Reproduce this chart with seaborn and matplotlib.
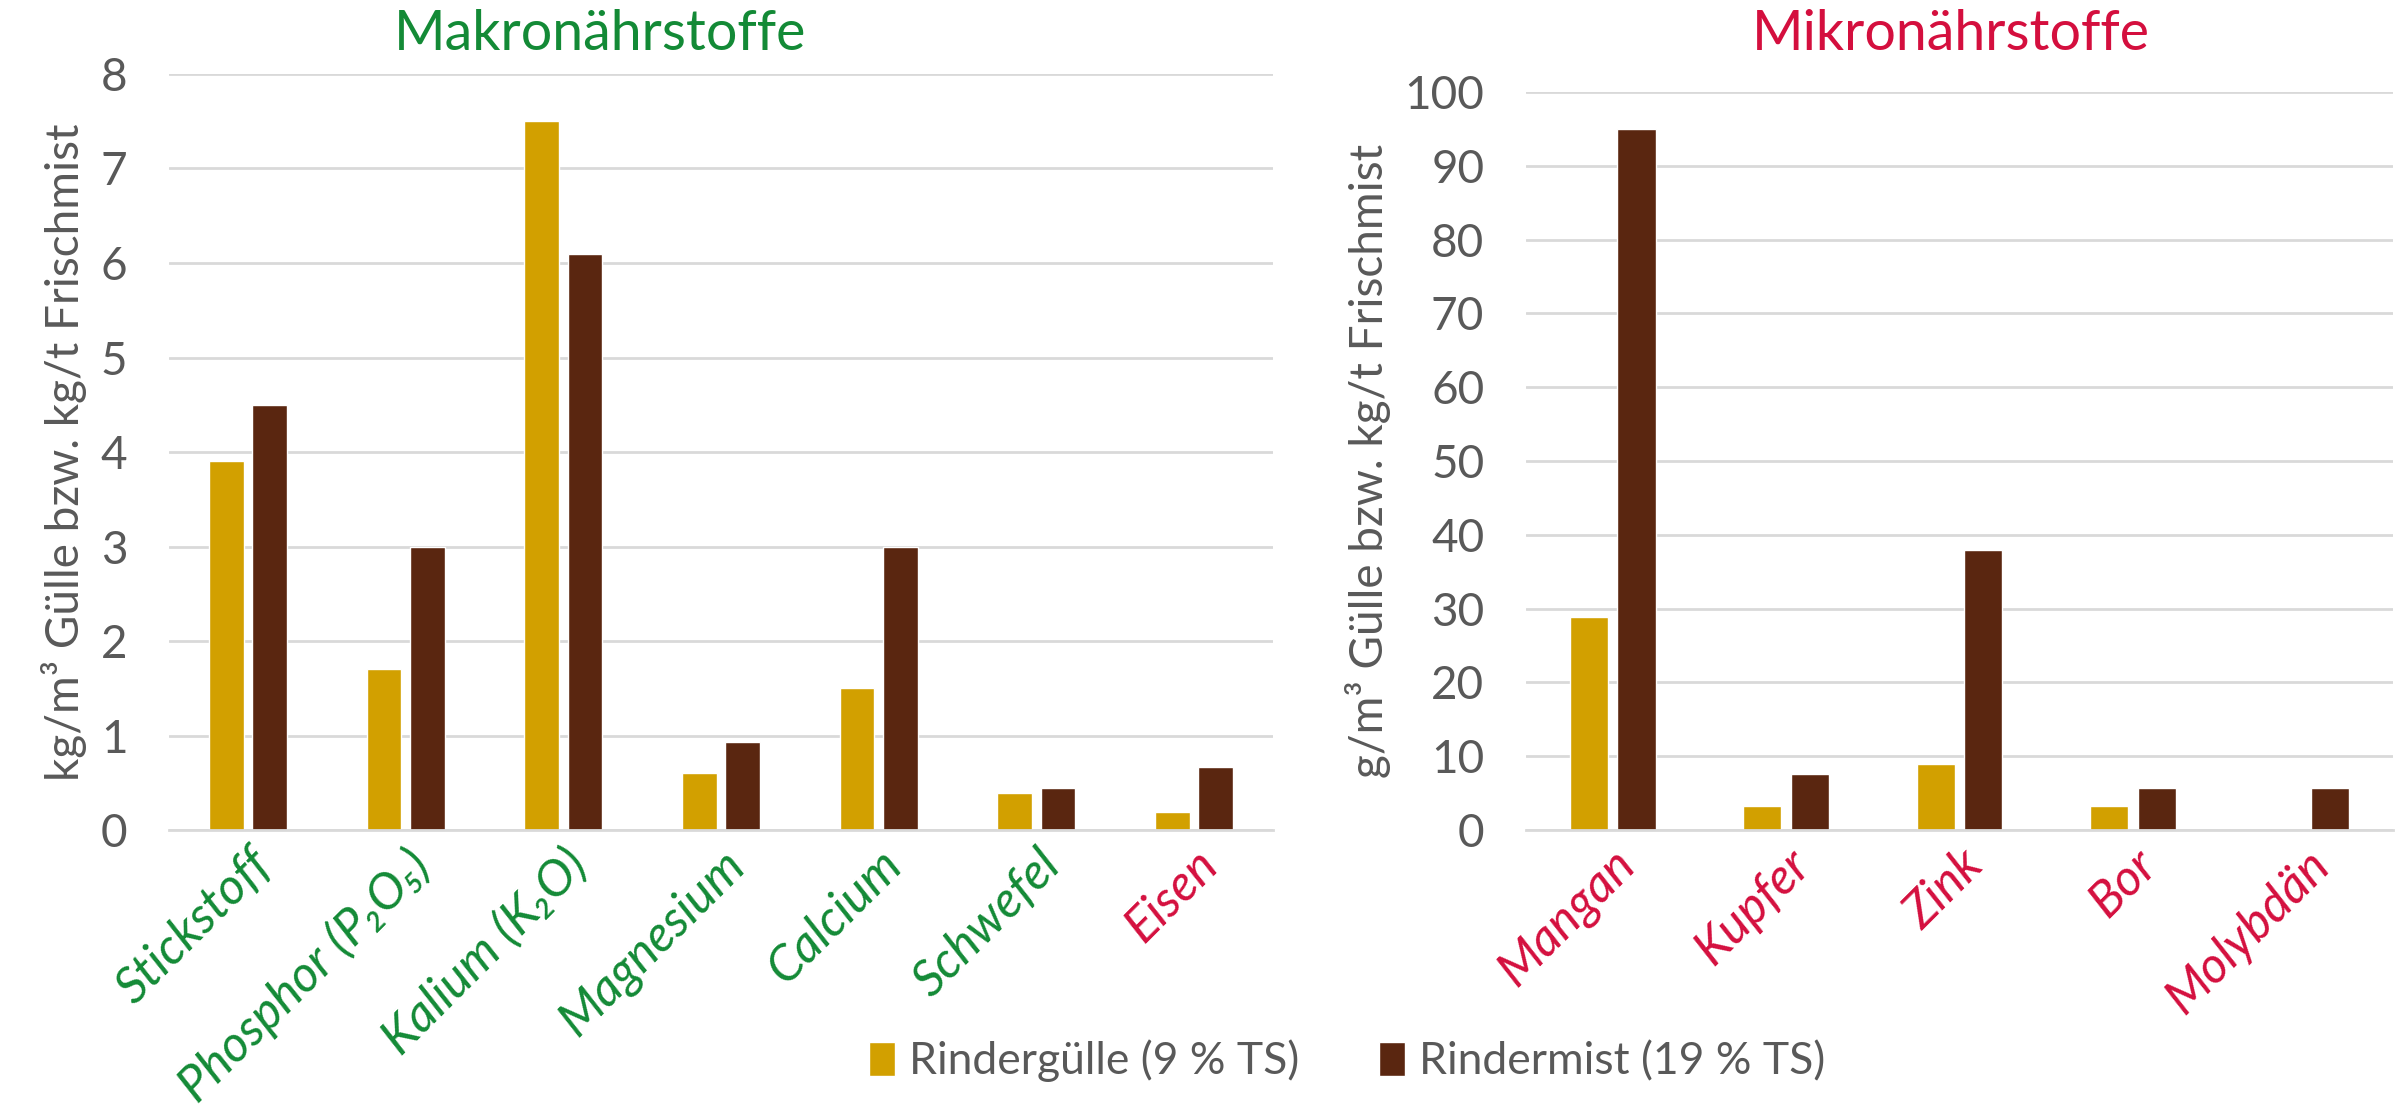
import matplotlib
matplotlib.use("Agg")
import matplotlib.pyplot as plt
from matplotlib.patches import Patch
import numpy as np
import pandas as pd
import seaborn as sns

# data
makro_cats = ["Stickstoff", "Phosphor (P\u2082O\u2085)", "Kalium (K\u2082O)",
              "Magnesium", "Calcium", "Schwefel", "Eisen"]
makro_guelle = [3.9, 1.7, 7.5, 0.6, 1.5, 0.39, 0.19]
makro_mist = [4.5, 3.0, 6.1, 0.93, 3.0, 0.45, 0.67]

mikro_cats = ["Mangan", "Kupfer", "Zink", "Bor", "Molybdän"]
mikro_guelle = [28.9, 3.2, 9.0, 3.2, np.nan]
mikro_mist = [95.0, 7.6, 38.0, 5.7, 5.7]

series = ["Rindergülle (9 % TS)", "Rindermist (19 % TS)"]

GOLD = "#D2A000"
BROWN = "#5A2610"
GREEN = "#138A36"
RED = "#D40F3E"
GREY = "#595959"
GRID = "#D9D9D9"

makro_colors = [GREEN] * 6 + [RED]
mikro_colors = [RED] * 5


def long_df(cats, a, b):
    return pd.DataFrame({
        "cat": cats * 2,
        "val": list(a) + list(b),
        "serie": [series[0]] * len(cats) + [series[1]] * len(cats),
    })


def bar_panel(ax, df, cats, colors, ylim, yticks, ylabel):
    sns.barplot(data=df, x="cat", y="val", hue="serie", order=cats,
                hue_order=series, palette=[GOLD, BROWN], saturation=1,
                errorbar=None, width=0.55, gap=0.2, legend=False, ax=ax)
    ax.set_ylim(*ylim)
    ax.set_xlim(-0.5, len(cats) - 0.5)
    ax.set_yticks(yticks)
    ax.yaxis.grid(True, color=GRID, lw=2)
    ax.set_axisbelow(True)
    for s in ["top", "right", "left"]:
        ax.spines[s].set_visible(False)
    ax.spines["bottom"].set_color(GRID)
    ax.spines["bottom"].set_linewidth(2)
    ax.tick_params(axis="both", length=0)
    ax.tick_params(axis="y", labelsize=33, labelcolor=GREY, pad=30)
    ax.set_xlabel("")
    ax.set_ylabel(ylabel, fontsize=33, color=GREY, labelpad=10)
    ax.set_xticks(range(len(cats)))
    ax.set_xticklabels(cats, rotation=45, ha="right", va="top",
                       rotation_mode="anchor", fontsize=36,
                       fontstyle="italic")
    for lbl, c in zip(ax.get_xticklabels(), colors):
        lbl.set_color(c)
    ax.tick_params(axis="x", pad=8)


sns.set_style("white")
plt.rcParams["font.family"] = ["Lato", "DejaVu Sans"]

fig = plt.figure(figsize=(24.05, 11.11), dpi=100)
ax1 = fig.add_axes([0.0703, 0.2529, 0.459, 0.6805])
ax2 = fig.add_axes([0.6345, 0.2529, 0.3605, 0.6643])

bar_panel(ax1, long_df(makro_cats, makro_guelle, makro_mist), makro_cats,
          makro_colors, (0, 8), range(0, 9),
          "kg/m³ Gülle bzw. kg/t Frischmist")
bar_panel(ax2, long_df(mikro_cats, mikro_guelle, mikro_mist), mikro_cats,
          mikro_colors, (0, 100), range(0, 101, 10),
          "g/m³ Gülle bzw. kg/t Frischmist")

fig.text(0.2495, 0.969, "Makronährstoffe", fontsize=40, color=GREEN,
         ha="center", va="center")
fig.text(0.811, 0.969, "Mikronährstoffe", fontsize=40, color=RED,
         ha="center", va="center")

handles = [Patch(facecolor=GOLD), Patch(facecolor=BROWN)]
leg = fig.legend(handles, series, loc="center", bbox_to_anchor=(0.56, 0.045),
                 ncol=2, frameon=False, fontsize=32, handlelength=0.6,
                 handleheight=0.8, handletextpad=0.3, columnspacing=1.8)
for t in leg.get_texts():
    t.set_color(GREY)

fig.savefig("out.png", dpi=100)
